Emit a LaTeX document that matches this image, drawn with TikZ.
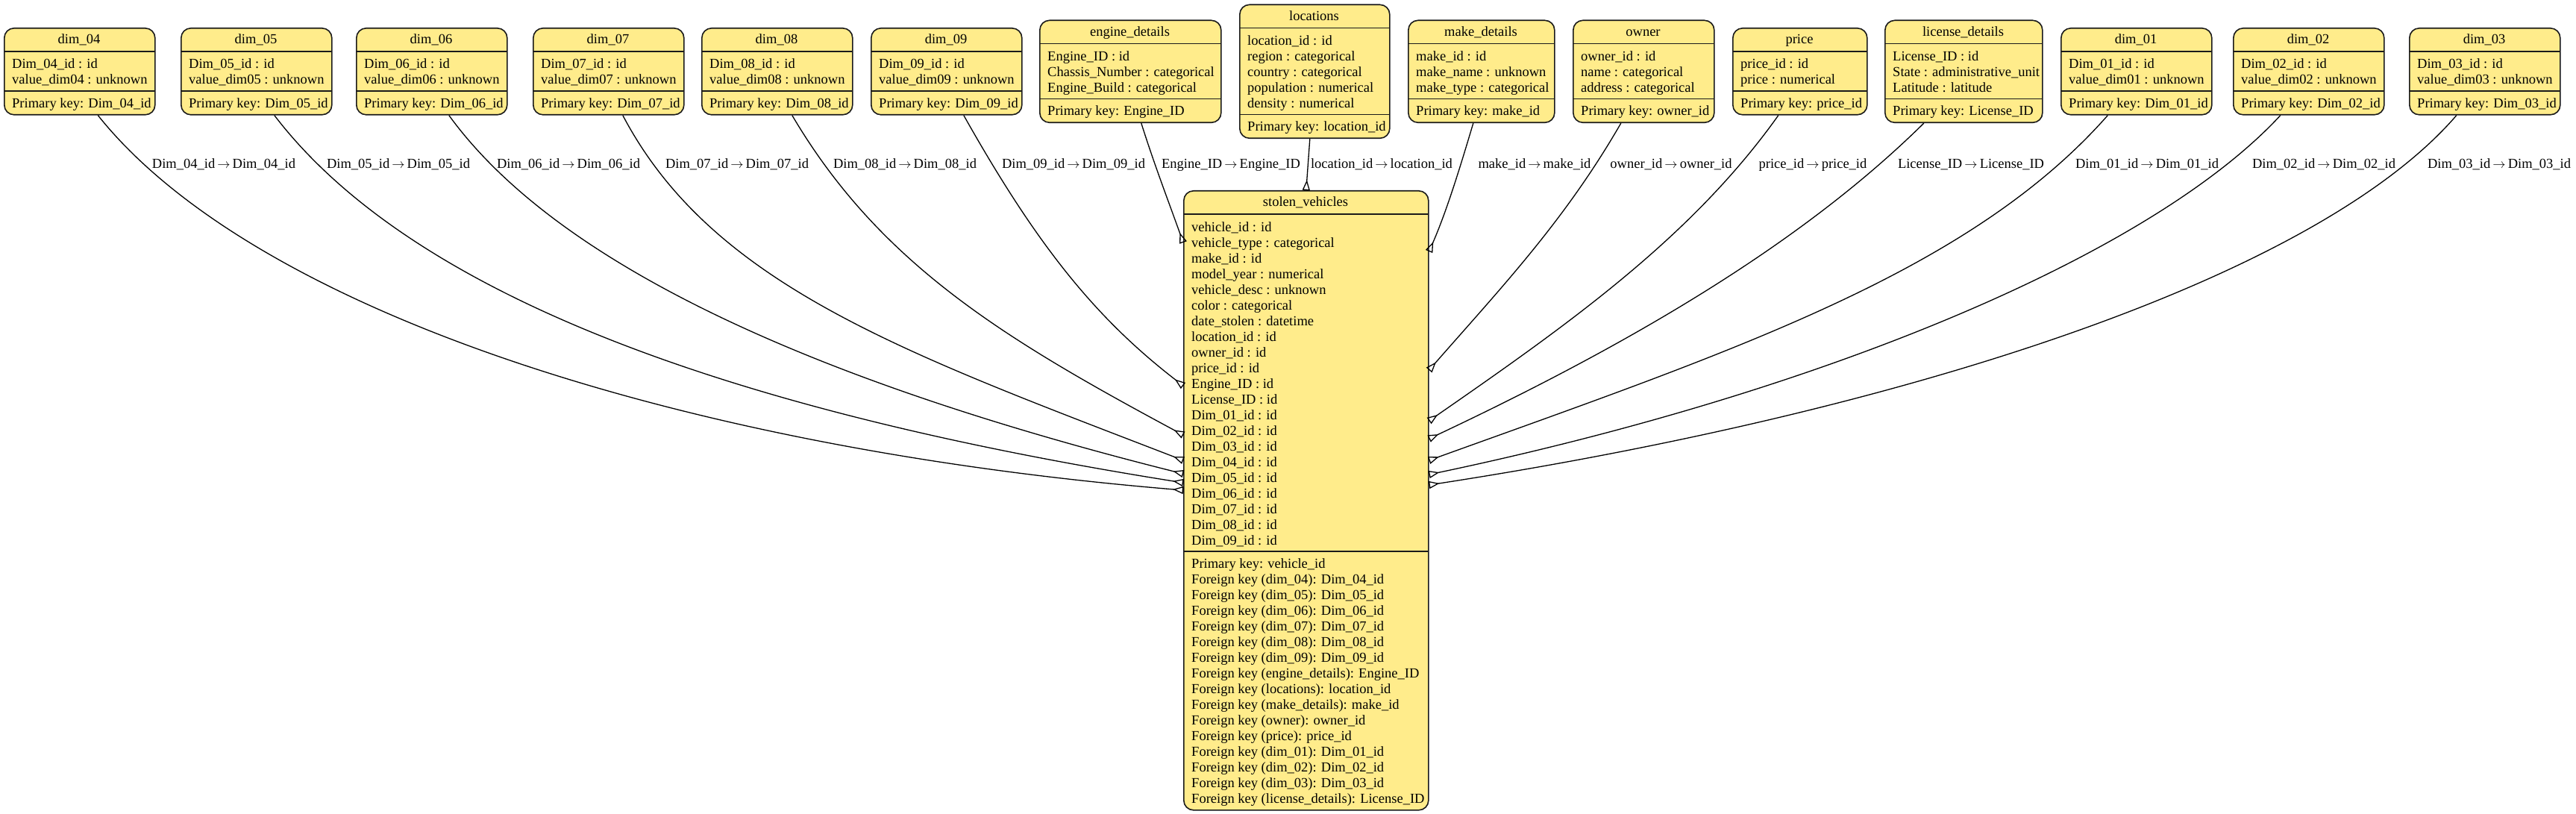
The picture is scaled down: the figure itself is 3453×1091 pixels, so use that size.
\documentclass[tikz,border=0pt]{standalone}
\usepackage{fontspec}
\setmainfont{Liberation Serif}
\usetikzlibrary{arrows.meta}
\definecolor{boxfill}{HTML}{FFEC8B}
\definecolor{boxline}{HTML}{1A1A1A}
\tikzset{
  txt/.style={font=\fontsize{18.5}{21}\selectfont, inner sep=0pt, text=black},
  tablebox/.style={rectangle, draw=boxline, fill=boxfill, rounded corners=13pt, line width=1.6pt, inner sep=0pt, anchor=north west},
  sepline/.style={draw=boxline, line width=1.5pt},
  fk/.style={draw=black, line width=1.3pt, -{Triangle[open, reversed, length=14pt, width=10pt]}},
  lbl/.style={txt, anchor=base}
}
\newcommand\ERtable[9]{%
  \pgfmathsetmacro\ERh{53+21*(#6+#8)}%
  \pgfmathsetmacro\ERtop{#3-\ERh/2}%
  \pgfmathsetmacro\ERsepA{\ERtop+32}%
  \pgfmathsetmacro\ERsepB{\ERtop+43+21*#6}%
  \node[tablebox, minimum width=#4pt, minimum height=\ERh pt] (#1) at (#2,\ERtop) {};
  \draw[sepline] (#2,\ERsepA) -- (#2+#4,\ERsepA);
  \draw[sepline] (#2,\ERsepB) -- (#2+#4,\ERsepB);
  \node[txt, anchor=base] (#1-title) at (#2+#4/2,\ERtop+22) {#5};
  \foreach \t [count=\i from 0] in {#7} {\node[txt, anchor=base west] (#1-f\i) at (#2+11,\ERtop+55+21*\i) {\t};}
  \foreach \t [count=\i from 0] in {#9} {\node[txt, anchor=base west] (#1-k\i) at (#2+11,\ERsepB+22.5+21*\i) {\t};}
}
\newcommand\ar{\,$\rightarrow$\,}
\begin{document}
\begin{tikzpicture}[x=1pt, y=-1pt]
\useasboundingbox (0,0) rectangle (3453,1091);
% top row tables
\ERtable{dim04}{5}{95}{202}{dim\_04}{2}{Dim\_04\_id : id, value\_dim04 : unknown}{1}{Primary key: Dim\_04\_id}
\ERtable{dim05}{242}{95}{202}{dim\_05}{2}{Dim\_05\_id : id, value\_dim05 : unknown}{1}{Primary key: Dim\_05\_id}
\ERtable{dim06}{477}{95}{202}{dim\_06}{2}{Dim\_06\_id : id, value\_dim06 : unknown}{1}{Primary key: Dim\_06\_id}
\ERtable{dim07}{714}{95}{202}{dim\_07}{2}{Dim\_07\_id : id, value\_dim07 : unknown}{1}{Primary key: Dim\_07\_id}
\ERtable{dim08}{940}{95}{202}{dim\_08}{2}{Dim\_08\_id : id, value\_dim08 : unknown}{1}{Primary key: Dim\_08\_id}
\ERtable{dim09}{1167}{95}{202}{dim\_09}{2}{Dim\_09\_id : id, value\_dim09 : unknown}{1}{Primary key: Dim\_09\_id}
\ERtable{engine}{1393}{95}{243}{engine\_details}{3}{Engine\_ID : id, Chassis\_Number : categorical, Engine\_Build : categorical}{1}{Primary key: Engine\_ID}
\ERtable{locations}{1661}{95}{201}{locations}{5}{location\_id : id, region : categorical, country : categorical, population : numerical, density : numerical}{1}{Primary key: location\_id}
\ERtable{make}{1887}{95}{196}{make\_details}{3}{make\_id : id, make\_name : unknown, make\_type : categorical}{1}{Primary key: make\_id}
\ERtable{owner}{2108}{95}{189}{owner}{3}{owner\_id : id, name : categorical, address : categorical}{1}{Primary key: owner\_id}
\ERtable{price}{2322}{95}{180}{price}{2}{price\_id : id, price : numerical}{1}{Primary key: price\_id}
\ERtable{license}{2526}{95}{211}{license\_details}{3}{License\_ID : id, State : administrative\_unit, Latitude : latitude}{1}{Primary key: License\_ID}
\ERtable{dim01}{2762}{95}{202}{dim\_01}{2}{Dim\_01\_id : id, value\_dim01 : unknown}{1}{Primary key: Dim\_01\_id}
\ERtable{dim02}{2993}{95}{202}{dim\_02}{2}{Dim\_02\_id : id, value\_dim02 : unknown}{1}{Primary key: Dim\_02\_id}
\ERtable{dim03}{3229}{95}{202}{dim\_03}{2}{Dim\_03\_id : id, value\_dim03 : unknown}{1}{Primary key: Dim\_03\_id}
% central table
\ERtable{sv}{1586}{670}{328}{stolen\_vehicles}{21}{vehicle\_id : id, vehicle\_type : categorical, make\_id : id, model\_year : numerical, vehicle\_desc : unknown, color : categorical, date\_stolen : datetime, location\_id : id, owner\_id : id, price\_id : id, Engine\_ID : id, License\_ID : id, Dim\_01\_id : id, Dim\_02\_id : id, Dim\_03\_id : id, Dim\_04\_id : id, Dim\_05\_id : id, Dim\_06\_id : id, Dim\_07\_id : id, Dim\_08\_id : id, Dim\_09\_id : id}{16}{Primary key: vehicle\_id, Foreign key (dim\_04): Dim\_04\_id, Foreign key (dim\_05): Dim\_05\_id, Foreign key (dim\_06): Dim\_06\_id, Foreign key (dim\_07): Dim\_07\_id, Foreign key (dim\_08): Dim\_08\_id, Foreign key (dim\_09): Dim\_09\_id, Foreign key (engine\_details): Engine\_ID, Foreign key (locations): location\_id, Foreign key (make\_details): make\_id, Foreign key (owner): owner\_id, Foreign key (price): price\_id, Foreign key (dim\_01): Dim\_01\_id, Foreign key (dim\_02): Dim\_02\_id, Foreign key (dim\_03): Dim\_03\_id, Foreign key (license\_details): License\_ID}
% connectors, left side
\draw[fk] ([xshift=24.5pt]dim04.south) .. controls +(205,257) and +(-686,-57) .. ([yshift=-402pt]sv.north west);
\draw[fk] ([xshift=24pt]dim05.south) .. controls +(195,255) and +(-566,-90) .. ([yshift=-392pt]sv.north west);
\draw[fk] ([xshift=23pt]dim06.south) .. controls +(135,186) and +(-534,-134) .. ([yshift=-380pt]sv.north west);
\draw[fk] ([xshift=19pt]dim07.south) .. controls +(120,228) and +(-373,-144) .. ([yshift=-362pt]sv.north west);
\draw[fk] ([xshift=20pt]dim08.south) .. controls +(118,200) and +(-238,-128) .. ([yshift=-328pt]sv.north west);
\draw[fk] ([xshift=23pt]dim09.south) .. controls +(98,174) and +(-118,-91) .. ([yshift=-262pt]sv.north west);
\draw[fk] ([xshift=14.5pt]engine.south) .. controls +(18,57) and +(-20,-56) .. ([yshift=-70pt]sv.north west);
% top
\draw[fk] ([xshift=-6.5pt]locations.south) -- (sv.north);
% right side
\draw[fk] ([xshift=-11pt]make.south) .. controls +(-17,57) and +(24,-55) .. ([yshift=-82pt]sv.north east);
\draw[fk] ([xshift=-30.5pt]owner.south) .. controls +(-75,130) and +(99,-113) .. ([yshift=-241pt]sv.north east);
\draw[fk] ([xshift=-29pt]price.south) .. controls +(-116,163) and +(189,-131) .. ([yshift=-309pt]sv.north east);
\draw[fk] ([xshift=-53.5pt]license.south) .. controls +(-153,151) and +(293,-138) .. ([yshift=-333pt]sv.north east);
\draw[fk] ([xshift=-38.5pt]dim01.south) .. controls +(-185,210) and +(408,-147) .. ([yshift=-362pt]sv.north east);
\draw[fk] ([xshift=-38pt]dim02.south) .. controls +(-173,187) and +(528,-111) .. ([yshift=-381pt]sv.north east);
\draw[fk] ([xshift=-38pt]dim03.south) .. controls +(-187,217) and +(642,-99) .. ([yshift=-395pt]sv.north east);
% connector labels
\node[lbl] (l04) at (300,226) {Dim\_04\_id\ar Dim\_04\_id};
\node[lbl] (l05) at (534,226) {Dim\_05\_id\ar Dim\_05\_id};
\node[lbl] (l06) at (762,226) {Dim\_06\_id\ar Dim\_06\_id};
\node[lbl] (l07) at (988,226) {Dim\_07\_id\ar Dim\_07\_id};
\node[lbl] (l08) at (1213,226) {Dim\_08\_id\ar Dim\_08\_id};
\node[lbl] (l09) at (1439,226) {Dim\_09\_id\ar Dim\_09\_id};
\node[lbl] (leng) at (1650,226) {Engine\_ID\ar Engine\_ID};
\node[lbl] (lloc) at (1852,226) {location\_id\ar location\_id};
\node[lbl] (lmake) at (2057,226) {make\_id\ar make\_id};
\node[lbl] (lown) at (2240,226) {owner\_id\ar owner\_id};
\node[lbl] (lpri) at (2430,226) {price\_id\ar price\_id};
\node[lbl] (llic) at (2642,226) {License\_ID\ar License\_ID};
\node[lbl] (l01) at (2878,226) {Dim\_01\_id\ar Dim\_01\_id};
\node[lbl] (l02) at (3115,226) {Dim\_02\_id\ar Dim\_02\_id};
\node[lbl] (l03) at (3350,226) {Dim\_03\_id\ar Dim\_03\_id};
\end{tikzpicture}
\end{document}
